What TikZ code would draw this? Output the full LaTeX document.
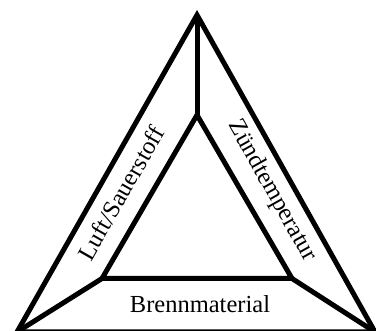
\documentclass[tikz,border=0pt]{standalone}
\usepackage{fontspec}
\setmainfont{Liberation Serif}
\usepackage{tikz}
\usetikzlibrary{positioning,calc}

\tikzset{
  edge/.style={line width=5pt, line join=miter},
  sidelabel/.style={inner sep=0pt, font=\fontsize{24.5}{28}\selectfont}
}

\begin{document}
\begin{tikzpicture}[x=1pt,y=1pt]
    \useasboundingbox (0,0) rectangle (376,331);

    % Outer triangle
    \coordinate (otop) at (197,316);
    \coordinate (oleft) at (17,-1);
    \coordinate (oright) at (375,-1);
    \draw[edge] (otop) -- (oleft) -- (oright) -- cycle;

    % Inner triangle
    \coordinate (itop) at (197,216);
    \coordinate (ileft) at (102,52.5);
    \coordinate (iright) at (292,52.5);
    \draw[edge] (itop) -- (ileft) -- (iright) -- cycle;

    % Spokes
    \draw[edge] (itop) -- (otop);
    \draw[edge] (ileft) -- (oleft);
    \draw[edge] (iright) -- (oright);

    % Labels
    \node[sidelabel, anchor=base] (fuel) at (200,18) {Brennmaterial};
    \node[sidelabel, rotate=60.3] (air) at (121,138) {Luft/Sauerstoff};
    \node[sidelabel, rotate=-60.8] (heat) at (272,140) {Zündtemperatur};
\end{tikzpicture}
\end{document}
